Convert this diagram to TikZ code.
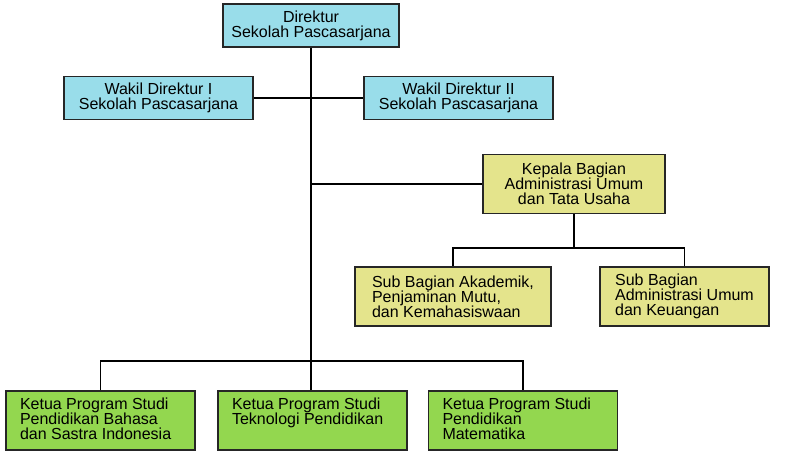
\documentclass[tikz,border=0pt]{standalone}
\usepackage{fontspec}
\setmainfont{Liberation Sans}
\definecolor{dirblue}{HTML}{99DDEA}
\definecolor{bagyellow}{HTML}{E4E48C}
\definecolor{prodigreen}{HTML}{93D74F}
\newcommand{\prodi}[1]{\parbox[c][45pt][t]{161pt}{\raggedright #1}}
\tikzset{
  unit/.style={draw=black!85, line width=1.2pt, rectangle,
    font=\fontsize{16}{15}\selectfont},
  dirbox/.style={unit, fill=dirblue, align=center, inner sep=0pt,
    minimum width=189pt, minimum height=43pt},
  bagbox/.style={unit, fill=bagyellow, inner sep=0pt, minimum height=59pt},
  prodibox/.style={unit, fill=prodigreen, inner xsep=14pt, inner ysep=0pt,
    minimum width=189pt, minimum height=59pt}
}
\begin{document}
\begin{tikzpicture}[x=1pt, y=-1pt]
      \useasboundingbox (0,0) rectangle (786,456);
      \draw
        (311,25.5) node[dirbox, minimum width=176pt] (dir){Direktur\\Sekolah Pascasarjana}
        (158.5,98) node[dirbox] (wk1){Wakil Direktur I\\Sekolah Pascasarjana}
        (458.5,98) node[dirbox] (wk2){Wakil Direktur II\\Sekolah Pascasarjana}
        (574,184) node[bagbox, align=center, minimum width=182pt] (kep){Kepala Bagian\\Administrasi Umum\\dan Tata Usaha}
        (453,296.5) node[bagbox, align=left, minimum width=196pt] (sub1){Sub Bagian Akademik,\\Penjaminan Mutu,\\dan Kemahasiswaan}
        (684.5,296.5) node[bagbox, align=left, minimum width=169pt] (sub2){Sub Bagian\\Administrasi Umum\\dan Keuangan}
        (100.5,420.5) node[prodibox] (kp1){\prodi{Ketua Program Studi\\Pendidikan Bahasa\\dan Sastra Indonesia}}
        (312.5,420.5) node[prodibox] (kp2){\prodi{Ketua Program Studi\\Teknologi Pendidikan}}
        (523,420.5) node[prodibox] (kp3){\prodi{Ketua Program Studi\\Pendidikan\\Matematika}};
      \coordinate (kbus) at (575,248);
      \coordinate (pbus) at (311,361);
      \begin{scope}[line width=1.6pt]
        \draw (dir) to (dir |- kp2.north);
        \draw (wk1.east) to (wk2.west);
        \draw (dir |- kep.west) to (kep.west);
        \draw (kep.south) to (kep.south |- kbus);
        \draw (sub1.north) |- (kbus) -| (sub2.north);
        \draw (kp1.north) |- (pbus) -| (kp3.north);
      \end{scope}
    \end{tikzpicture}
\end{document}
